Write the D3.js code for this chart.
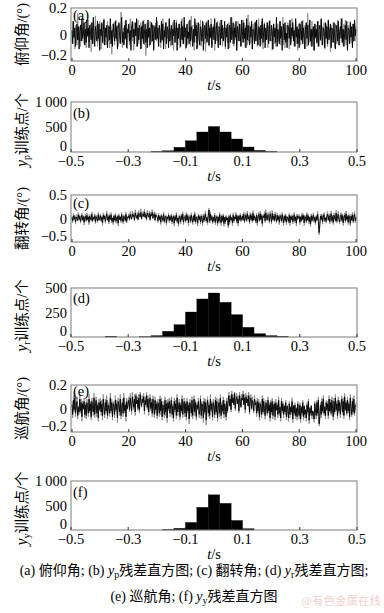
<!DOCTYPE html>
<html><head><meta charset="utf-8">
<script src="https://cdn.jsdelivr.net/npm/d3@7"></script>
<style>
html,body{margin:0;padding:0;background:#fff;}
svg{display:block;}
text{font-family:"Liberation Serif","Noto Sans CJK SC",serif;fill:#000;}
</style></head><body>
<svg id="c" width="384" height="613"></svg>
<script>
// ---------- DATA ----------
// time series sampled every 0.25 s, values in centi-degrees (0.01°)
const dt = 0.25;
const pitchGray = [-6,10,-3,5,-11,7,2,-8,16,-4,6,-1,-9,8,3,-5,12,-7,1,9,
-10,4,-2,11,-6,1,8,-13,5,-3,9,-7,2,14,-4,7,-9,2,-5,10,
6,-11,8,0,-7,12,-3,5,-8,1,10,-5,7,-10,3,6,-15,4,-2,9,
-8,3,11,-5,7,-9,1,8,-6,17,-3,-10,5,2,-7,10,-4,8,-11,5,
1,-8,12,-3,6,-5,9,-12,4,-1,8,-9,3,11,-7,5,-2,9,-10,7,
-5,11,-8,2,-16,6,9,-3,4,-9,10,-1,-6,8,5,-11,7,-3,9,-5,
10,-2,-9,6,3,-10,8,-5,12,-7,1,6,-11,9,-3,4,-8,10,-1,-9,
7,-4,9,-12,3,5,-6,11,-1,-8,8,2,-10,5,-3,12,-7,3,8,-5,
-11,6,1,-8,10,-3,5,-9,14,-4,7,-1,-12,9,3,-6,9,-10,2,8,
-5,11,-9,4,-2,9,-7,6,-13,3,10,-5,1,-9,7,-3,12,-8,5,-1,
8,-12,3,6,-5,10,-2,-8,9,-4,1,11,-9,5,-3,8,-11,4,7,-6,
2,9,-10,5,-1,13,-7,3,-9,8,-4,6,-12,3,10,-2,-5,8,-9,5,
-3,11,-6,1,-10,7,4,-8,15,-5,9,-1,-7,6,-11,8,3,-5,10,-3,
8,-9,2,12,-4,5,-8,10,0,-11,5,9,-6,3,-3,9,-10,7,-5,11,
-1,6,-12,4,8,-7,3,-9,11,-3,8,-5,1,10,-8,5,-2,13,-8,6,
-10,3,7,-5,9,-1,-11,8,4,-6,12,-3,5,-9,2,10,-7,5,-12,8,
-3,9,-8,3,-5,11,-2,7,-10,6,1,-9,16,-4,8,-6,3,-9,10,-1,
5,-12,8,-3,7,-7,4,10,-9,2,-5,11,-8,6,-1,9,-11,3,8,-4,
-9,10,-2,5,-13,7,3,-6,9,-1,-10,8,5,-7,11,-3,2,-8,6,12,
-6,4,-9,8,-3,11,-8,1,-11,7,5,-4,10,-6,3,-9,8,-2,9,-5,
6];
const pitchBlack = [3,-7,10,-2,5,-9,1,8,-4,6,-11,2,7,-5,12,-3,0,9,-8,4,
-6,11,-1,5,-10,7,2,-4,9,-7,13,-2,-9,6,1,-5,10,-3,8,-12,
4,-1,9,-6,3,11,-8,5,-2,7,-10,0,6,-4,12,-7,3,-9,8,2,
-5,10,-3,6,-11,4,9,-1,-7,5,13,-6,2,-8,7,-3,11,-10,4,1,
8,-5,3,-12,6,10,-2,4,-7,9,-1,12,-9,5,-4,7,2,-11,6,-3,
10,-7,1,8,-6,4,-10,11,-2,5,-8,3,9,-5,7,-12,2,6,-4,13,
-3,5,-9,7,1,-6,10,-4,8,-11,3,-2,9,-7,6,4,-10,12,-5,2,
7,-8,4,-1,11,-6,3,9,-12,5,-3,8,1,-9,10,-4,6,-7,13,-2,
5,-10,8,-3,2,-7,11,-5,6,1,-9,4,-6,12,-1,7,-11,3,9,-4,
-8,6,2,-5,10,-12,4,7,-3,9,-6,1,11,-8,5,-2,8,-10,3,6,
-4,12,-7,2,9,-1,-10,6,4,-8,11,-3,7,-5,0,10,-9,5,-2,8,
-11,3,7,-6,13,-4,1,9,-7,5,-2,10,-12,6,3,-5,8,-1,-9,11,
2,-6,9,-3,5,-10,12,-4,7,1,-8,6,-2,10,-11,4,3,-7,9,-5,
11,-1,-8,6,4,-9,7,-3,12,-6,2,8,-10,5,-4,9,1,-7,10,-2,
-5,7,3,-11,8,-2,5,-6,13,-9,4,1,-7,10,-3,6,-12,2,8,-4,
9,-6,1,-10,7,4,-3,11,-8,5,-1,9,-5,3,-9,12,-2,6,-7,4,
-10,8,2,-4,10,-7,5,-1,-11,6,9,-3,7,-8,1,11,-5,4,-9,3,
6,-12,8,-2,4,-6,10,-9,3,7,-4,12,-1,-8,5,2,-10,9,-3,6,
-7,11,-4,1,8,-10,5,3,-6,9,-2,-11,7,4,-5,10,-8,2,6,-3,
12,-6,4,-9,1,7,-4,10,-12,5,3,-7,9,-2,6,-10,8,-5,11,-1,
4];
const rollGray = [5,-9,11,-3,7,-12,4,9,-6,13,-2,8,-10,3,12,-5,6,-14,4,9,
-7,12,-4,6,-13,9,2,-6,14,-8,4,-2,10,-11,7,-1,-9,13,-5,3,
10,-7,5,-15,12,-2,8,-10,4,16,-5,7,-12,10,-3,13,-9,2,-13,8,
-6,11,-10,4,7,-16,10,-3,5,-9,13,-2,-12,8,3,-7,14,-10,5,2,
10,-4,15,5,-3,16,6,11,-6,19,8,-1,13,-4,17,9,4,21,-2,11,
15,6,20,3,12,-4,18,9,5,16,-5,14,7,19,-1,10,15,-6,12,6,
6,-9,11,-4,7,-13,10,2,-7,14,-10,4,8,-14,5,-2,11,-9,7,-5,
10,-12,4,8,-16,7,-5,13,-10,2,-17,8,5,-12,10,-4,14,-13,4,7,
-9,13,-5,10,-15,4,7,-10,12,-2,-13,8,-7,14,-12,5,2,-16,10,-3,
7,-12,9,-4,-15,10,-7,5,16,-9,3,-13,12,22,-10,14,-5,7,-12,4,
-9,12,-13,2,7,-16,5,-10,13,-4,-15,8,-7,10,-17,3,-12,7,-5,2,
-20,7,-13,10,-5,3,-15,12,-9,5,-2,13,-10,7,-16,8,-4,11,-7,2,
9,-5,14,-10,4,12,-7,16,-2,7,-12,13,-4,10,-9,17,-5,8,2,-10,
11,-15,5,13,-7,16,-4,10,-17,8,3,15,-9,19,2,-5,13,7,-10,16,
5,-12,17,-4,9,-7,14,2,-10,12,-5,7,-13,10,3,-9,13,-2,-15,8,
-7,10,-13,5,2,-10,12,-15,7,-4,9,-12,3,13,-9,5,-16,10,-2,7,
9,-13,5,-7,12,-4,10,-15,7,2,-10,13,-5,9,-12,4,-17,10,-7,5,
12,-9,4,-13,7,-5,15,-10,-35,-18,9,-4,10,-12,5,13,-7,2,-10,8,
15,-5,10,-12,4,16,-9,7,-13,12,2,-7,18,-10,5,15,-4,-12,9,13,
-7,10,-15,5,12,-9,16,-4,7,-13,10,2,-16,9,-5,13,-10,5,15,-9,
4];
const rollBlack = [2,-5,6,-1,4,-7,3,0,-4,8,-2,5,-6,1,7,-3,4,-8,2,5,
-4,7,-2,3,-8,5,1,-3,9,-5,2,-1,6,-7,4,0,-5,8,-3,2,
6,-4,3,-9,7,-1,5,-6,2,10,-3,4,-7,6,-2,8,-5,1,-8,5,
-3,7,-6,2,4,-10,6,-2,3,-5,8,-1,-7,5,2,-4,9,-6,3,1,
6,-2,9,3,-1,10,4,7,-3,12,5,1,8,-2,11,6,3,13,0,7,
10,4,14,2,8,-1,12,6,3,11,-2,9,5,13,1,7,10,-3,8,4,
3,-5,7,-2,4,-8,6,1,-4,9,-6,2,5,-9,3,-1,7,-5,4,-3,
6,-7,2,5,-10,4,-3,8,-6,1,-11,5,3,-7,6,-2,9,-8,2,4,
-5,8,-3,6,-9,2,4,-6,7,-1,-8,5,-4,9,-7,3,1,-10,6,-2,
4,-7,5,-2,-9,6,-4,3,10,-5,2,-8,7,18,-6,9,-3,4,-7,2,
-5,7,-8,1,4,-10,3,-6,8,-2,-9,5,-4,6,-11,2,-7,4,-3,1,
-15,4,-8,6,-3,2,-9,7,-5,3,-1,8,-6,4,-10,5,-2,7,-4,1,
5,-3,9,-6,2,7,-4,10,-1,4,-7,8,-2,6,-5,11,-3,5,1,-6,
7,-9,3,8,-4,10,-2,6,-11,5,2,9,-5,12,1,-3,8,4,-6,10,
3,-7,11,-2,5,-4,9,1,-6,7,-3,4,-8,6,2,-5,8,-1,-9,5,
-4,6,-8,3,1,-6,7,-9,4,-2,5,-7,2,8,-5,3,-10,6,-1,4,
5,-8,3,-4,7,-2,6,-9,4,1,-6,8,-3,5,-7,2,-11,6,-4,3,
7,-5,2,-8,4,-3,9,-6,-30,-12,5,-2,6,-7,3,8,-4,1,-6,5,
9,-3,6,-7,2,10,-5,4,-8,7,1,-4,11,-6,3,9,-2,-7,5,8,
-4,6,-9,3,7,-5,10,-2,4,-8,6,1,-10,5,-3,8,-6,3,9,-5,
2];
const yawGray = [6,-8,11,-3,13,-7,4,10,-9,2,-5,12,-4,8,-11,6,-1,9,-8,5,
-9,8,2,-7,12,-4,6,-10,9,-1,-6,13,-8,4,10,-7,5,-11,8,-2,
9,-6,7,-10,12,1,-8,8,-4,11,-9,5,-2,-7,13,-4,8,-10,6,3,
-8,11,-3,7,-12,9,3,-6,12,-9,2,8,-7,13,-4,5,-11,9,-1,6,
10,-3,13,5,-5,14,7,-1,12,-6,13,6,10,-2,12,-4,14,9,1,11,
7,13,-5,10,4,14,-1,11,-6,9,12,-2,8,-7,11,3,-8,10,-4,6,
-9,8,3,-7,11,-5,9,-10,6,1,-8,10,-6,7,-12,8,-2,9,-7,5,
10,-8,4,-11,9,-3,7,-9,12,-6,2,8,-10,5,-4,11,-8,3,9,-7,
6,-10,9,-4,5,-13,8,2,-7,10,-9,4,11,-6,7,-10,5,-1,9,-8,
-4,11,-9,6,2,-12,9,-5,8,-14,4,10,-7,5,-9,12,-3,6,-10,8,
3,-8,10,-5,9,-11,2,8,-7,12,-9,5,-4,10,-8,7,1,-10,9,-4,
8,14,3,11,-3,15,7,12,4,14,-2,10,13,5,11,-4,14,9,2,12,
10,15,4,12,-4,13,7,11,3,14,-5,9,12,-1,10,6,-4,11,5,7,
-7,9,-4,8,-10,6,2,-8,11,-5,9,-1,-9,7,3,-6,10,-4,5,-11,
7,-5,9,-9,3,6,-10,8,-2,5,-8,10,-6,2,-11,9,-4,6,-8,3,
-5,7,-10,3,-2,-11,6,-8,2,-5,9,-12,3,-6,5,-9,1,-10,6,-4,
-9,5,-12,2,-6,7,-10,3,-8,-2,-11,5,-5,8,-13,1,-6,3,-9,-3,
-5,-12,6,-3,-9,7,-6,10,-15,-10,5,-8,9,-4,11,-6,2,-9,7,-2,
6,-9,11,-3,8,-6,10,-1,-10,9,-5,12,-2,6,-9,10,-4,7,-8,5,
11,-5,9,-9,13,-2,7,-6,10,-4,6,-10,12,0,-7,9,-5,11,-6,3,
5];
const yawBlack = [3,-5,7,-1,9,-4,2,6,-6,1,-3,8,-2,5,-7,4,0,6,-5,3,
-6,5,1,-4,8,-2,4,-7,6,0,-3,9,-5,2,7,-4,3,-8,5,-1,
6,-3,4,-6,8,1,-5,5,-2,7,-6,3,0,-4,9,-2,5,-7,4,2,
-5,7,-1,4,-8,6,2,-3,8,-6,1,5,-4,9,-2,3,-7,6,0,4,
7,-1,9,3,-2,10,5,1,8,-3,11,4,7,0,9,-1,12,6,2,8,
5,10,-2,7,3,11,1,8,-3,6,9,0,5,-4,8,2,-5,7,-1,4,
-6,5,2,-4,8,-2,6,-7,3,1,-5,7,-3,4,-8,5,0,6,-4,3,
7,-5,2,-8,6,-1,4,-6,9,-3,1,5,-7,3,-2,8,-5,2,6,-4,
4,-7,6,-2,3,-9,5,1,-4,7,-6,2,8,-3,5,-7,3,0,6,-5,
-2,8,-6,4,1,-8,6,-3,5,-10,2,7,-4,3,-6,8,-1,4,-7,5,
2,-5,7,-3,6,-8,1,5,-4,9,-6,3,-2,7,-5,4,1,-7,6,-2,
6,11,2,8,-1,12,5,9,3,13,0,7,10,4,8,-2,11,6,1,9,
7,12,3,9,-1,10,5,8,2,11,-3,6,9,0,7,4,-2,8,3,5,
-4,6,-2,5,-7,4,1,-5,8,-3,6,0,-6,5,2,-4,7,-2,3,-8,
5,-3,6,-6,2,4,-7,5,-1,3,-5,7,-4,1,-8,6,-2,4,-5,2,
-3,5,-7,2,-1,-8,4,-5,1,-3,6,-9,2,-4,3,-6,0,-7,4,-2,
-6,3,-9,1,-4,5,-7,2,-5,-1,-8,3,-3,6,-10,0,-4,2,-6,-2,
-3,-9,4,-2,-6,5,-4,7,-13,-7,3,-5,6,-2,8,-4,1,-6,5,-1,
4,-6,8,-2,5,-4,7,0,-7,6,-3,9,-1,4,-6,7,-2,5,-5,3,
8,-3,6,-6,10,-1,5,-4,7,-2,4,-7,9,0,-5,6,-3,8,-4,2,
3];

// residual histograms: bin centres (0.04 wide) and counts
const binWidth = 0.04;
const ypBins   = [-0.20,-0.16,-0.12,-0.08,-0.04,0,0.04,0.08,0.12,0.16,0.20];
const ypCounts = [10,25,95,225,400,510,400,260,100,33,10];
const yrBins   = [-0.36,-0.32,-0.28,-0.24,-0.20,-0.16,-0.12,-0.08,-0.04,0,0.04,0.08,0.12,0.16,0.20,0.24];
const yrCounts = [7,0,0,3,14,58,126,255,388,449,354,228,99,34,14,7];
const yyBins   = [-0.16,-0.12,-0.08,-0.04,0,0.04,0.08,0.12];
const yyCounts = [10,35,155,463,718,544,195,27];

const timeTicks = [0,20,40,60,80,100];
const histXTicks = [-0.5,-0.3,-0.1,0.1,0.3,0.5];
const pitchTicks = [-0.2,0,0.2];
const rollTicks = [-0.5,0,0.5];
const yawTicks = [-0.2,0,0.2];
const ypTicks = [0,500,1000];
const yrTicks = [0,250,500];
const yyTicks = [0,500,1000];

// ---------- DRAW ----------
const svg = d3.select("#c");
const L = 71, R = 357;
const FS = 14.5;
const fmt = v => {
  if (v === 1000) return "1\u2009000";
  return (v < 0 ? "\u2212" : "") + String(Math.abs(v));
};

function frame(g, x, y, xt, yt, top, bottom, label, labelDy) {
  g.append("rect").attr("x", L).attr("y", top).attr("width", R - L).attr("height", bottom - top)
    .attr("fill", "none").attr("stroke", "#7a7a7a").attr("stroke-width", 1);
  xt.forEach(v => {
    g.append("line").attr("x1", x(v)).attr("x2", x(v)).attr("y1", bottom).attr("y2", bottom - 3)
      .attr("stroke", "#333").attr("stroke-width", 1);
    g.append("text").attr("x", x(v)).attr("y", bottom + 14).attr("text-anchor", "middle")
      .attr("font-size", FS).text(fmt(v));
  });
  yt.forEach((v, i) => {
    g.append("text").attr("x", 67).attr("y", y(v) + (i === 0 ? -1 : 5)).attr("text-anchor", "end")
      .attr("font-size", FS).text(fmt(v));
  });
  const ts = g.append("text").attr("x", (L + R) / 2).attr("y", bottom + 29).attr("text-anchor", "middle").attr("font-size", FS);
  ts.append("tspan").attr("font-style", "italic").text("t");
  ts.append("tspan").text("/s");
  g.append("text").attr("x", 73).attr("y", top + labelDy).attr("font-size", FS).text(label);
}

function timePanel(top, bottom, dom, yt, gray, black, label, title, labelDy) {
  const g = svg.append("g");
  const x = d3.scaleLinear().domain([0, 100]).range([L + 1, R - 1]);
  const y = d3.scaleLinear().domain(dom).range([bottom, top]);
  const line = d3.line().x((d, i) => x(i * dt)).y(d => y(d / 100)); // centi-degrees -> degrees
  const clip = "clip" + top;
  g.append("clipPath").attr("id", clip).append("rect").attr("x", L).attr("y", top).attr("width", R - L).attr("height", bottom - top);
  const lg = g.append("g").attr("clip-path", `url(#${clip})`);
  lg.append("path").datum(gray).attr("d", line).attr("fill", "none").attr("stroke", "#8a8a8a").attr("stroke-width", 0.9);
  lg.append("path").datum(black).attr("d", line).attr("fill", "none").attr("stroke", "#000").attr("stroke-width", 0.9);
  frame(g, x, y, timeTicks, yt, top, bottom, label, labelDy);
  g.append("text").attr("transform", `translate(27,${(top + bottom) / 2}) rotate(-90)`)
    .attr("text-anchor", "middle").attr("font-size", 14.5).text(title);
}

function histPanel(top, bottom, ymax, yt, bins, counts, label, sub, labelDy) {
  const g = svg.append("g");
  const x = d3.scaleLinear().domain([-0.5, 0.5]).range([L, R]);
  const y = d3.scaleLinear().domain([0, ymax]).range([bottom, top]);
  g.selectAll("rect.bar").data(bins).join("rect").attr("class", "bar")
    .attr("x", d => x(d - binWidth / 2)).attr("width", d => x(d + binWidth / 2) - x(d - binWidth / 2))
    .attr("y", (d, i) => y(counts[i])).attr("height", (d, i) => bottom - y(counts[i]))
    .attr("fill", "#000").attr("stroke", "#000").attr("stroke-width", 0.3);
  frame(g, x, y, histXTicks, yt, top, bottom, label, labelDy);
  const t = g.append("text").attr("transform", `translate(27,${(top + bottom) / 2 + 3}) rotate(-90)`)
    .attr("text-anchor", "middle").attr("font-size", 14.5);
  t.append("tspan").attr("font-style", "italic").attr("font-size", 16).text("y");
  t.append("tspan").attr("font-size", 10).attr("dy", 3).text(sub);
  t.append("tspan").attr("dy", -3).text("训练点/个");
}

timePanel(8, 61, [-0.2, 0.2], pitchTicks, pitchGray, pitchBlack, "(a)", "俯仰角/(°)", 12);
histPanel(102, 152, 1000, ypTicks, ypBins, ypCounts, "(b)", "p", 16);
timePanel(195, 242, [-0.5, 0.5], rollTicks, rollGray, rollBlack, "(c)", "翻转角/(°)", 13);
histPanel(288, 337, 500, yrTicks, yrBins, yrCounts, "(d)", "r", 15);
timePanel(385, 432, [-0.2, 0.2], yawTicks, yawGray, yawBlack, "(e)", "巡航角/(°)", 11);
histPanel(481, 530, 1000, yyTicks, yyBins, yyCounts, "(f)", "y", 16);

// caption
const c1 = svg.append("text").attr("x", 194).attr("y", 575).attr("text-anchor", "middle").attr("font-size", 14);
c1.append("tspan").text("(a)  俯仰角; (b) ");
c1.append("tspan").attr("font-style", "italic").text("y");
c1.append("tspan").attr("font-size", 10).attr("dy", 3).text("p");
c1.append("tspan").attr("dy", -3).text("残差直方图; (c)  翻转角; (d) ");
c1.append("tspan").attr("font-style", "italic").text("y");
c1.append("tspan").attr("font-size", 10).attr("dy", 3).text("r");
c1.append("tspan").attr("dy", -3).text("残差直方图;");
const c2 = svg.append("text").attr("x", 194).attr("y", 601).attr("text-anchor", "middle").attr("font-size", 14);
c2.append("tspan").text("(e)  巡航角; (f) ");
c2.append("tspan").attr("font-style", "italic").text("y");
c2.append("tspan").attr("font-size", 10).attr("dy", 3).text("y");
c2.append("tspan").attr("dy", -3).text("残差直方图");
svg.append("text").attr("x", 381).attr("y", 605).attr("text-anchor", "end").attr("font-size", 11.5)
  .style("fill", "#f2cfcf").text("@有色金属在线");
</script></body></html>
